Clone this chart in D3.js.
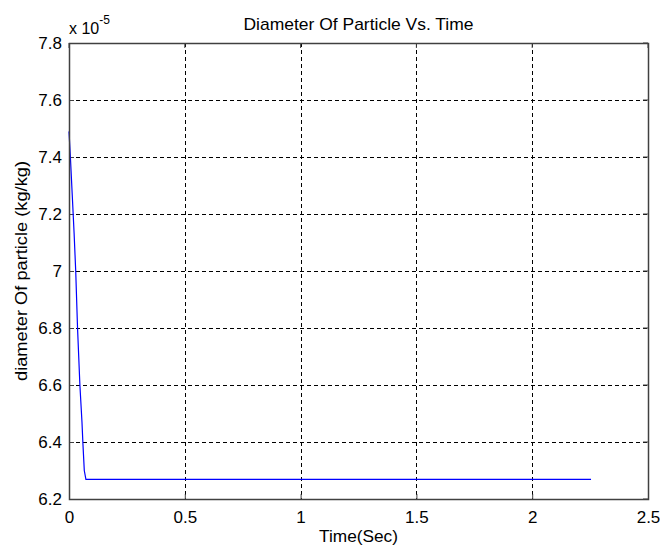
<!DOCTYPE html>
<html><head><meta charset="utf-8">
<script src="https://cdn.jsdelivr.net/npm/d3@7"></script>
<style>body{margin:0;background:#fff}svg{display:block}text{font-family:"Liberation Sans",Arial,sans-serif;fill:#000}</style>
</head><body><svg id="c" width="660" height="547"></svg>
<script>
const timeSec = [0, 0.006, 0.014, 0.022, 0.029, 0.037, 0.047, 0.056, 0.060, 0.066, 0.073, 0.5, 1.0, 1.5, 2.0, 2.254];
const diameter = [7.49e-5, 7.40e-5, 7.267e-5, 7.133e-5, 7.0e-5, 6.797e-5, 6.6e-5, 6.47e-5, 6.396e-5, 6.30e-5, 6.269e-5, 6.269e-5, 6.269e-5, 6.269e-5, 6.269e-5, 6.269e-5];
const xTicks = [0, 0.5, 1, 1.5, 2, 2.5];
const yTicks = [6.2e-5, 6.4e-5, 6.6e-5, 6.8e-5, 7.0e-5, 7.2e-5, 7.4e-5, 7.6e-5, 7.8e-5];
const titleText = "Diameter Of Particle Vs. Time";
const xLabel = "Time(Sec)";
const yLabel = "diameter Of particle (kg/kg)";

const L = 69, R = 648, T = 43, B = 499;
const svg = d3.select("#c");
const x = d3.scaleLinear().domain([0, 2.5]).range([L, R]);
const y = d3.scaleLinear().domain([6.2e-5, 7.8e-5]).range([B, T]);
const fs = 17;

// grid
const g = svg.append("g");
g.selectAll(".vg").data(xTicks.slice(1, -1)).join("line")
  .attr("x1", d => Math.round(x(d)) + 0.5).attr("x2", d => Math.round(x(d)) + 0.5)
  .attr("y1", T).attr("y2", B).attr("stroke", "#000").attr("stroke-dasharray", "4,3").attr("stroke-width", 1);
g.selectAll(".hg").data(yTicks.slice(1, -1)).join("line")
  .attr("y1", d => Math.round(y(d)) + 0.5).attr("y2", d => Math.round(y(d)) + 0.5)
  .attr("x1", L).attr("x2", R).attr("stroke", "#000").attr("stroke-dasharray", "4,3").attr("stroke-width", 1);

// axes via d3
const fmtY = d => d3.format("~g")(+(d / 1e-5).toFixed(2));
const xAxis = svg.append("g").attr("transform", `translate(0,${B})`)
  .call(d3.axisBottom(x).tickValues(xTicks).tickSize(-5).tickPadding(12).tickFormat(d3.format("~g")));
const yAxis = svg.append("g").attr("transform", `translate(${L},0)`)
  .call(d3.axisLeft(y).tickValues(yTicks).tickSize(-5).tickPadding(7).tickFormat(fmtY));
[xAxis, yAxis].forEach(a => {
  a.select(".domain").remove();
  a.selectAll("line").attr("stroke", "#404040");
  a.selectAll("text").attr("font-size", fs).attr("fill", "#000")
    .style("font-family", '"Liberation Sans",Arial,sans-serif');
});
// top/right ticks
svg.append("g").selectAll("line").data(xTicks).join("line")
  .attr("x1", d => x(d)).attr("x2", d => x(d)).attr("y1", T).attr("y2", T + 5).attr("stroke", "#404040");
svg.append("g").selectAll("line").data(yTicks).join("line")
  .attr("y1", d => y(d)).attr("y2", d => y(d)).attr("x1", R).attr("x2", R - 5).attr("stroke", "#404040");

// data line
svg.append("path").datum(timeSec.map((t, i) => [t, diameter[i]]))
  .attr("fill", "none").attr("stroke", "#0000ff").attr("stroke-width", 1.2)
  .attr("d", d3.line().x(d => x(d[0])).y(d => y(d[1])));

// box
svg.append("rect").attr("x", L + 0.5).attr("y", T + 0.5).attr("width", R - L).attr("height", B - T)
  .attr("fill", "none").attr("stroke", "#404040").attr("stroke-width", 1.5);

// texts
svg.append("text").attr("x", (L + R) / 2).attr("y", 30).attr("text-anchor", "middle").attr("font-size", fs)
  .attr("textLength", 230).attr("lengthAdjust", "spacingAndGlyphs").text(titleText);
svg.append("text").attr("x", (L + R) / 2).attr("y", 542).attr("text-anchor", "middle").attr("font-size", fs)
  .attr("textLength", 79).attr("lengthAdjust", "spacingAndGlyphs").text(xLabel);
svg.append("text").attr("transform", `translate(27,${(T + B) / 2}) rotate(-90)`).attr("text-anchor", "middle").attr("font-size", fs)
  .attr("textLength", 220).attr("lengthAdjust", "spacingAndGlyphs").text(yLabel);
const ex = svg.append("text").attr("x", 69).attr("y", 34).attr("font-size", 16);
ex.append("tspan").text("x 10");
ex.append("tspan").attr("dy", -10).attr("font-size", 12).text("-5");
</script></body></html>
